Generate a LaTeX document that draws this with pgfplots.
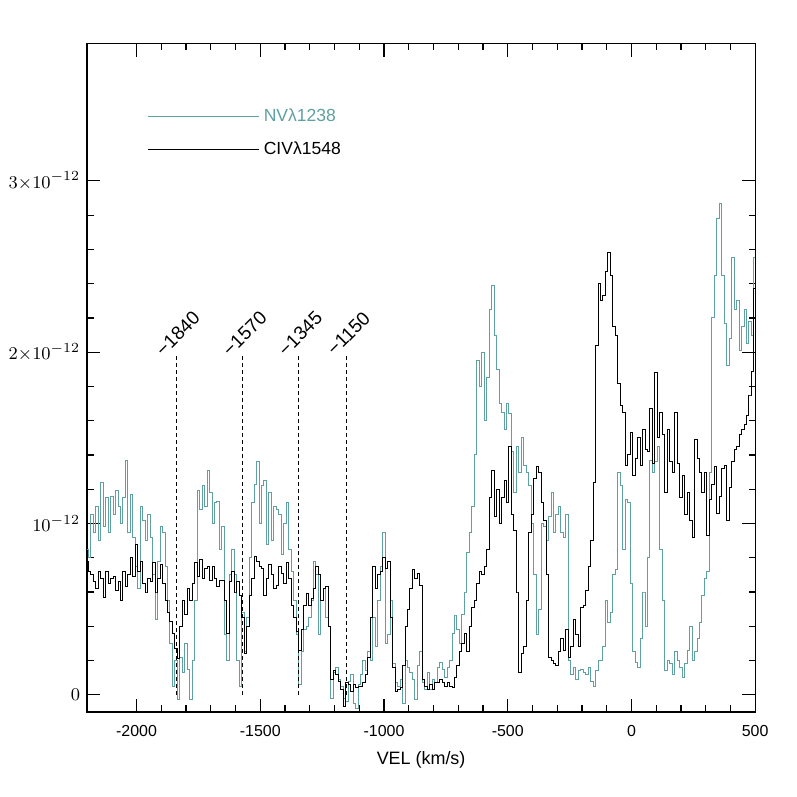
\documentclass[border=0pt]{standalone}
\usepackage{fontspec}
\setmainfont{Liberation Sans}
\usepackage{pgfplots}
\pgfplotsset{compat=1.18}
\usepackage{pgfplotstable}
\definecolor{nvcol}{RGB}{95,160,160}

\pgfplotstableread{
v y
-2200 0.85
-2190 0.80
-2180 1.05
-2170 0.95
-2160 1.10
-2150 0.90
-2140 1.24
-2130 0.98
-2120 1.15
-2110 0.95
-2100 1.16
-2090 1.05
-2080 1.19
-2070 1.10
-2060 1.00
-2050 1.15
-2040 1.37
-2030 0.95
-2020 1.17
-2010 0.92
-2000 0.75
-1990 0.62
-1980 1.10
-1970 1.02
-1960 0.90
-1950 1.05
-1940 0.92
-1930 0.70
-1920 0.44
-1910 0.78
-1900 0.98
-1890 0.95
-1880 0.75
-1870 0.55
-1860 0.30
-1850 0.05
-1840 0.20
-1830 -0.03
-1820 0.22
-1810 0.13
-1800 0.30
-1790 0.15
-1780 -0.03
-1770 0.20
-1760 0.55
-1750 1.19
-1740 1.08
-1730 1.22
-1720 1.10
-1710 1.31
-1700 1.18
-1690 1.00
-1680 1.12
-1670 1.13
-1660 0.85
-1650 0.98
-1640 0.35
-1630 0.20
-1620 0.70
-1610 0.85
-1600 0.70
-1590 0.20
-1580 0.05
-1570 0.48
-1560 0.25
-1550 0.45
-1540 0.80
-1530 1.12
-1520 1.23
-1510 1.36
-1500 1.00
-1490 1.22
-1480 1.25
-1470 0.88
-1460 1.18
-1450 0.90
-1440 1.10
-1430 1.08
-1420 1.05
-1410 0.82
-1400 1.00
-1390 1.12
-1380 0.85
-1370 0.72
-1360 0.55
-1350 0.35
-1340 0.06
-1330 0.25
-1320 0.38
-1310 0.40
-1300 0.45
-1290 0.55
-1280 0.78
-1270 0.70
-1260 0.35
-1250 0.55
-1240 0.62
-1230 0.45
-1220 0.40
-1210 -0.02
-1200 0.13
-1190 0.16
-1180 0.09
-1170 0.05
-1160 -0.02
-1150 -0.04
-1140 0.08
-1130 0.12
-1120 -0.05
-1110 -0.08
-1100 0.06
-1090 0.12
-1080 0.20
-1070 0.14
-1060 0.25
-1050 0.20
-1040 0.45
-1030 0.28
-1020 0.55
-1010 0.75
-1000 0.95
-990 0.30
-980 0.35
-970 0.55
-960 0.18
-950 0.07
-940 0.05
-930 0.09
-920 -0.05
-910 0.20
-900 0.16
-890 0.13
-880 0.09
-870 -0.03
-860 0.17
-850 0.25
-840 0.07
-830 0.03
-820 0.13
-810 0.03
-800 0.09
-790 0.07
-780 0.16
-770 0.19
-760 0.15
-750 0.10
-740 0.16
-730 0.20
-720 0.36
-710 0.46
-700 0.38
-690 0.30
-680 0.47
-670 0.60
-660 0.83
-650 0.95
-640 1.10
-630 1.40
-620 1.95
-610 1.80
-600 2.00
-590 1.60
-580 1.85
-570 2.25
-560 2.39
-550 2.10
-540 1.90
-530 1.70
-520 1.65
-510 1.55
-500 1.70
-490 1.64
-480 1.42
-470 1.18
-460 1.45
-450 1.30
-440 1.50
-430 1.34
-420 1.30
-410 1.22
-400 1.00
-390 0.70
-380 0.35
-370 0.50
-360 1.00
-350 0.98
-340 0.90
-330 1.04
-320 1.18
-310 0.95
-300 1.05
-290 1.10
-280 0.95
-270 0.92
-260 1.05
-250 0.20
-240 0.12
-230 0.16
-220 0.09
-210 0.14
-200 0.15
-190 0.13
-180 0.12
-170 0.16
-160 0.08
-150 0.05
-140 0.14
-130 0.20
-120 0.20
-110 0.28
-100 0.55
-90 0.42
-80 0.48
-70 0.70
-60 0.73
-50 1.30
-40 1.22
-30 0.85
-20 1.14
-10 1.12
0 0.65
10 0.25
20 0.19
30 0.16
40 0.33
50 0.60
60 0.40
70 0.80
80 1.37
90 1.30
100 1.36
110 1.45
120 0.85
130 0.55
140 0.14
150 0.20
160 0.18
170 0.12
180 0.25
190 0.20
200 0.16
210 0.10
220 0.18
230 0.26
240 0.40
250 0.20
260 0.25
270 0.33
280 0.42
290 0.58
300 0.68
310 0.72
320 1.30
330 2.20
340 2.45
350 2.78
360 2.87
370 2.45
380 2.17
390 1.92
400 2.08
410 2.55
420 2.25
430 2.30
440 2.01
450 2.15
460 2.25
470 2.05
480 2.18
490 2.10
500 2.55
}\nvdata

\pgfplotstableread{
v y
-2200 0.78
-2190 0.72
-2180 0.70
-2170 0.66
-2160 0.62
-2150 0.72
-2140 0.68
-2130 0.57
-2120 0.72
-2110 0.65
-2100 0.68
-2090 0.69
-2080 0.61
-2070 0.66
-2060 0.55
-2050 0.72
-2040 0.63
-2030 0.70
-2020 0.80
-2010 0.69
-2000 0.88
-1990 0.72
-1980 0.78
-1970 0.65
-1960 0.60
-1950 0.68
-1940 0.66
-1930 0.77
-1920 0.60
-1910 0.68
-1900 0.76
-1890 0.65
-1880 0.55
-1870 0.48
-1860 0.43
-1850 0.36
-1840 0.27
-1830 0.21
-1820 0.40
-1810 0.55
-1800 0.47
-1790 0.62
-1780 0.55
-1770 0.65
-1760 0.77
-1750 0.69
-1740 0.79
-1730 0.68
-1720 0.74
-1710 0.75
-1700 0.67
-1690 0.75
-1680 0.68
-1670 0.63
-1660 0.67
-1650 0.67
-1640 0.55
-1630 0.36
-1620 0.66
-1610 0.72
-1600 0.60
-1590 0.66
-1580 0.58
-1570 0.45
-1560 0.24
-1550 0.40
-1540 0.58
-1530 0.68
-1520 0.81
-1510 0.78
-1500 0.75
-1490 0.74
-1480 0.58
-1470 0.68
-1460 0.76
-1450 0.70
-1440 0.62
-1430 0.64
-1420 0.75
-1410 0.71
-1400 0.65
-1390 0.77
-1380 0.68
-1370 0.52
-1360 0.45
-1350 0.37
-1340 0.26
-1330 0.38
-1320 0.52
-1310 0.59
-1300 0.52
-1290 0.56
-1280 0.62
-1270 0.75
-1260 0.70
-1250 0.55
-1240 0.62
-1230 0.63
-1220 0.40
-1210 0.09
-1200 0.14
-1190 0.12
-1180 0.08
-1170 0.03
-1160 -0.07
-1150 0.07
-1140 0.06
-1130 0.02
-1120 0.06
-1110 0.04
-1100 0.05
-1090 0.05
-1080 0.07
-1070 0.12
-1060 0.22
-1050 0.45
-1040 0.75
-1030 0.62
-1020 0.70
-1010 0.72
-1000 0.80
-990 0.74
-980 0.78
-970 0.45
-960 0.16
-950 0.02
-940 0.03
-930 0.04
-920 0.17
-910 0.40
-900 0.50
-890 0.62
-880 0.73
-870 0.68
-860 0.71
-850 0.64
-840 0.09
-830 0.05
-820 0.03
-810 0.06
-800 0.03
-790 0.07
-780 0.07
-770 0.09
-760 0.07
-750 0.05
-740 0.07
-730 0.05
-720 0.04
-710 0.10
-700 0.17
-690 0.25
-680 0.30
-670 0.36
-660 0.25
-650 0.40
-640 0.51
-630 0.55
-620 0.65
-610 0.72
-600 0.70
-590 0.75
-580 0.85
-570 1.15
-560 1.31
-550 1.04
-540 1.20
-530 1.00
-520 1.15
-510 1.25
-500 1.12
-490 1.45
-480 1.05
-470 0.96
-460 0.60
-450 0.13
-440 0.24
-430 0.28
-420 0.55
-410 0.95
-400 1.05
-390 1.26
-380 1.33
-370 1.30
-360 1.12
-350 1.02
-340 0.70
-330 0.22
-320 0.20
-310 0.18
-300 0.17
-290 0.25
-280 0.33
-270 0.26
-260 0.38
-250 0.22
-240 0.28
-230 0.44
-220 0.35
-210 0.28
-200 0.51
-190 0.52
-180 0.61
-170 0.75
-160 0.90
-150 1.24
-140 2.04
-130 2.40
-120 2.30
-110 2.33
-100 2.47
-90 2.58
-80 2.45
-70 2.15
-60 2.10
-50 1.82
-40 1.69
-30 1.65
-20 1.34
-10 1.40
0 1.53
10 1.28
20 1.38
30 1.50
40 1.34
50 1.55
60 1.43
70 1.42
80 1.67
90 1.35
100 1.88
110 1.50
120 1.65
130 1.52
140 1.18
150 1.55
160 1.36
170 1.30
180 1.65
190 1.35
200 1.15
210 1.28
220 1.05
230 1.18
240 1.02
250 0.92
260 1.49
270 1.38
280 1.30
290 1.18
300 1.30
310 0.93
320 1.14
330 1.23
340 1.33
350 1.06
360 1.16
370 1.32
380 1.34
390 1.02
400 1.21
410 1.36
420 1.43
430 1.45
440 1.52
450 1.55
460 1.58
470 1.63
480 1.75
490 1.89
500 2.37
}\civdata

\begin{document}
\begin{tikzpicture}
\begin{axis}[
  scale only axis,
  width=335.3pt, height=335.3pt,
  xmin=-2200, xmax=500, ymin=-0.1, ymax=3.8,
  xtick={-2000,-1500,-1000,-500,0,500},
  xticklabels={-2000,-1500,-1000,-500,0,500},
  minor x tick num=4,
  ytick={0,1,2,3},
  yticklabels={$0$,$10^{-12}$,$2{\times}10^{-12}$,$3{\times}10^{-12}$},
  minor y tick num=4,
  tick align=inside,
  major tick length=6.5pt, minor tick length=3.3pt,
  axis line style={line width=0.6pt},
  every tick/.style={black, line width=0.6pt},
  xticklabel style={font=\fontsize{8}{9}\selectfont, yshift=-3pt},
  yticklabel style={font=\fontsize{9.5}{10}\selectfont},
  xlabel={VEL (km/s)},
  xlabel style={font=\fontsize{9}{10}\selectfont, yshift=-1pt},
  legend style={draw=none, fill=none, at={(axis description cs:0.0895,0.909)},
    anchor=north west, font=\fontsize{8.8}{10}\selectfont, row sep=4.5pt,
    inner sep=0pt},
  legend cell align=left,
  legend image code/.code={\draw[#1] (0pt,0pt) -- (56pt,0pt);},
  clip=true,
]
\addplot[color=nvcol, line width=0.5pt, const plot mark mid] table[x=v,y=y] {\nvdata};
\addlegendentry{\textcolor{nvcol}{NVλ1238}}
\addplot[color=black, line width=0.5pt, const plot mark mid] table[x=v,y=y] {\civdata};
\addlegendentry{CIVλ1548}
\addplot[forget plot, black, line width=0.5pt, dash pattern=on 2pt off 1.5pt] coordinates {(-1840,0) (-1840,1.98)};
\addplot[forget plot, black, line width=0.5pt, dash pattern=on 2pt off 1.5pt] coordinates {(-1570,0) (-1570,1.98)};
\addplot[forget plot, black, line width=0.5pt, dash pattern=on 2pt off 1.5pt] coordinates {(-1345,0) (-1345,1.98)};
\addplot[forget plot, black, line width=0.5pt, dash pattern=on 2pt off 1.5pt] coordinates {(-1150,0) (-1150,1.98)};
\node[xshift=0.8pt, yshift=11pt, rotate=45, font=\fontsize{9.5}{10}\selectfont] at (axis cs:-1840,1.98) {−1840};
\node[xshift=0.8pt, yshift=11pt, rotate=45, font=\fontsize{9.5}{10}\selectfont] at (axis cs:-1570,1.98) {−1570};
\node[xshift=0.8pt, yshift=11pt, rotate=45, font=\fontsize{9.5}{10}\selectfont] at (axis cs:-1345,1.98) {−1345};
\node[xshift=0.8pt, yshift=11pt, rotate=45, font=\fontsize{9.5}{10}\selectfont] at (axis cs:-1150,1.98) {−1150};
\end{axis}
\path (current axis.south west) ++(-43.7pt,-42.7pt) rectangle ++(400pt,400pt);
\end{tikzpicture}
\end{document}
